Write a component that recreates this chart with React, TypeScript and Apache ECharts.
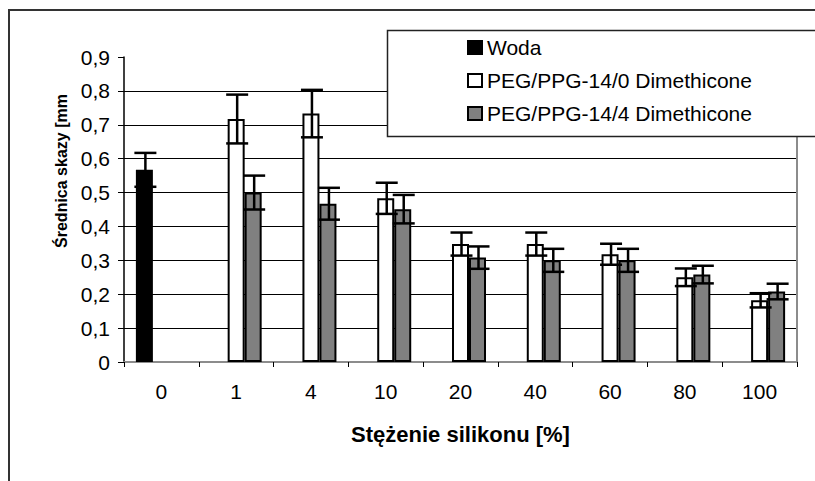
import React, { useEffect, useRef } from "react";
import * as echarts from "echarts";

const categories = ["0", "1", "4", "10", "20", "40", "60", "80", "100"];
const seriesNames = ["Woda", "PEG/PPG-14/0 Dimethicone", "PEG/PPG-14/4 Dimethicone"];
const wodaValues = [0.567, null, null, null, null, null, null, null, null];
const wodaErrors = [0.05, null, null, null, null, null, null, null, null];
const peg0Values = [null, 0.717, 0.733, 0.483, 0.348, 0.348, 0.318, 0.25, 0.182];
const peg0Errors = [null, 0.072, 0.07, 0.046, 0.034, 0.034, 0.031, 0.026, 0.021];
const peg4Values = [null, 0.5, 0.467, 0.451, 0.308, 0.3, 0.3, 0.258, 0.208];
const peg4Errors = [null, 0.05, 0.047, 0.042, 0.033, 0.034, 0.034, 0.026, 0.023];
const yTicks = { min: 0, max: 0.9, interval: 0.1 };

const FONT = "'Liberation Sans', Arial, sans-serif";
const BAR_W = 17;
const fills = ["#000000", "#ffffff", "#808080"];

function errorSeries(values: (number | null)[], errors: (number | null)[], slot: number) {
  const data: number[][] = [];
  values.forEach((v, i) => {
    if (v != null && errors[i] != null) data.push([i, v, errors[i] as number]);
  });
  return {
    type: "custom",
    silent: true,
    z: 5,
    encode: { x: 0, y: 1 },
    data,
    renderItem: (_p: any, api: any) => {
      const i = api.value(0);
      const v = api.value(1);
      const e = api.value(2);
      const hi = api.coord([i, v + e]);
      const lo = api.coord([i, v - e]);
      const cx = hi[0] + slot * BAR_W + 1;
      const half = 11;
      const st = { stroke: "#000", lineWidth: 2.5 };
      return {
        type: "group",
        children: [
          { type: "line", shape: { x1: cx, y1: hi[1], x2: cx, y2: lo[1] }, style: st },
          { type: "line", shape: { x1: cx - half, y1: hi[1], x2: cx + half, y2: hi[1] }, style: st },
          { type: "line", shape: { x1: cx - half, y1: lo[1], x2: cx + half, y2: lo[1] }, style: st },
        ],
      };
    },
  };
}

export default function App() {
  const ref = useRef<HTMLDivElement>(null);
  useEffect(() => {
    if (!ref.current) return;
    const chart = echarts.init(ref.current, null, { renderer: "svg" });
    const barSeries = [wodaValues, peg0Values, peg4Values].map((vals, k) => ({
      type: "bar",
      name: seriesNames[k],
      data: vals,
      barWidth: BAR_W,
      barGap: "0%",
      itemStyle: { color: fills[k], borderColor: "#000", borderWidth: 2 },
      z: 2,
    }));
    chart.setOption({
      animation: false,
      backgroundColor: "#fff",
      textStyle: { fontFamily: FONT, color: "#000" },
      grid: { left: 124, right: 18, top: 57, bottom: 119, containLabel: false },
      legend: {
        data: seriesNames,
        orient: "vertical",
        left: 467,
        top: 37,
        padding: 0,
        itemWidth: 14,
        itemHeight: 13,
        itemGap: 12,
        icon: "rect",
        selectedMode: false,
        z: 20,
        itemStyle: { borderColor: "#000", borderWidth: 2 },
        textStyle: { fontFamily: FONT, fontSize: 21, lineHeight: 21, color: "#000" },
      },
      xAxis: [
        {
          type: "category",
          data: categories,
          position: "bottom",
          axisLine: { lineStyle: { color: "#000", width: 1.5 } },
          axisTick: { show: true, length: 5, lineStyle: { color: "#000" } },
          axisLabel: { fontFamily: FONT, fontSize: 21, color: "#000", margin: 19 },
          name: "Stężenie silikonu [%]",
          nameLocation: "middle",
          nameGap: 61,
          nameTextStyle: { fontFamily: FONT, fontSize: 22, fontWeight: "bold", color: "#000", lineHeight: 22 },
        },
        {
          type: "category",
          data: categories,
          position: "top",
          axisLine: { show: true, lineStyle: { color: "#8c8c8c", width: 2 } },
          axisTick: { show: false },
          axisLabel: { show: false },
          splitLine: { show: false },
        },
      ],
      yAxis: [
        {
          type: "value",
          min: yTicks.min,
          max: yTicks.max,
          interval: yTicks.interval,
          axisLine: { show: true, lineStyle: { color: "#000", width: 1.5 } },
          axisTick: { show: true, length: 6, lineStyle: { color: "#000" } },
          axisLabel: {
            fontFamily: FONT,
            fontSize: 21,
            color: "#000",
            margin: 14,
            formatter: (v: number) => (v === 0 ? "0" : v.toFixed(1).replace(".", ",")),
          },
          splitLine: { show: true, showMaxLine: false, lineStyle: { color: "#000", width: 1 } },
          name: "Średnica skazy [mm",
          nameLocation: "middle",
          nameRotate: 90,
          nameGap: 50,
          nameTextStyle: {
            fontFamily: FONT,
            fontSize: 16,
            fontWeight: "bold",
            color: "#000",
            lineHeight: 16,
            padding: [0, 0, 0, 77],
          },
        },
        {
          type: "value",
          position: "right",
          min: yTicks.min,
          max: yTicks.max,
          interval: yTicks.interval,
          axisLine: { show: true, lineStyle: { color: "#8c8c8c", width: 2 } },
          axisTick: { show: false },
          axisLabel: { show: false },
          splitLine: { show: false },
        },
      ],
      graphic: [
        {
          type: "rect",
          z: 0,
          silent: true,
          shape: { x: 9, y: 10, width: 1000, height: 1000 },
          style: { fill: "none", stroke: "#333", lineWidth: 2 },
        },
        {
          type: "rect",
          z: 10,
          silent: true,
          shape: { x: 387.5, y: 30.5, width: 600, height: 106 },
          style: { fill: "#fff", stroke: "#222", lineWidth: 1.5 },
        },
      ],
      series: [
        ...barSeries,
        errorSeries(wodaValues, wodaErrors, -1),
        errorSeries(peg0Values, peg0Errors, 0),
        errorSeries(peg4Values, peg4Errors, 1),
      ],
    });
    return () => chart.dispose();
  }, []);
  return (
    <div
      ref={ref}
      style={{ position: "fixed", left: 0, top: 0, width: 815, height: 481, background: "#fff" }}
    />
  );
}
